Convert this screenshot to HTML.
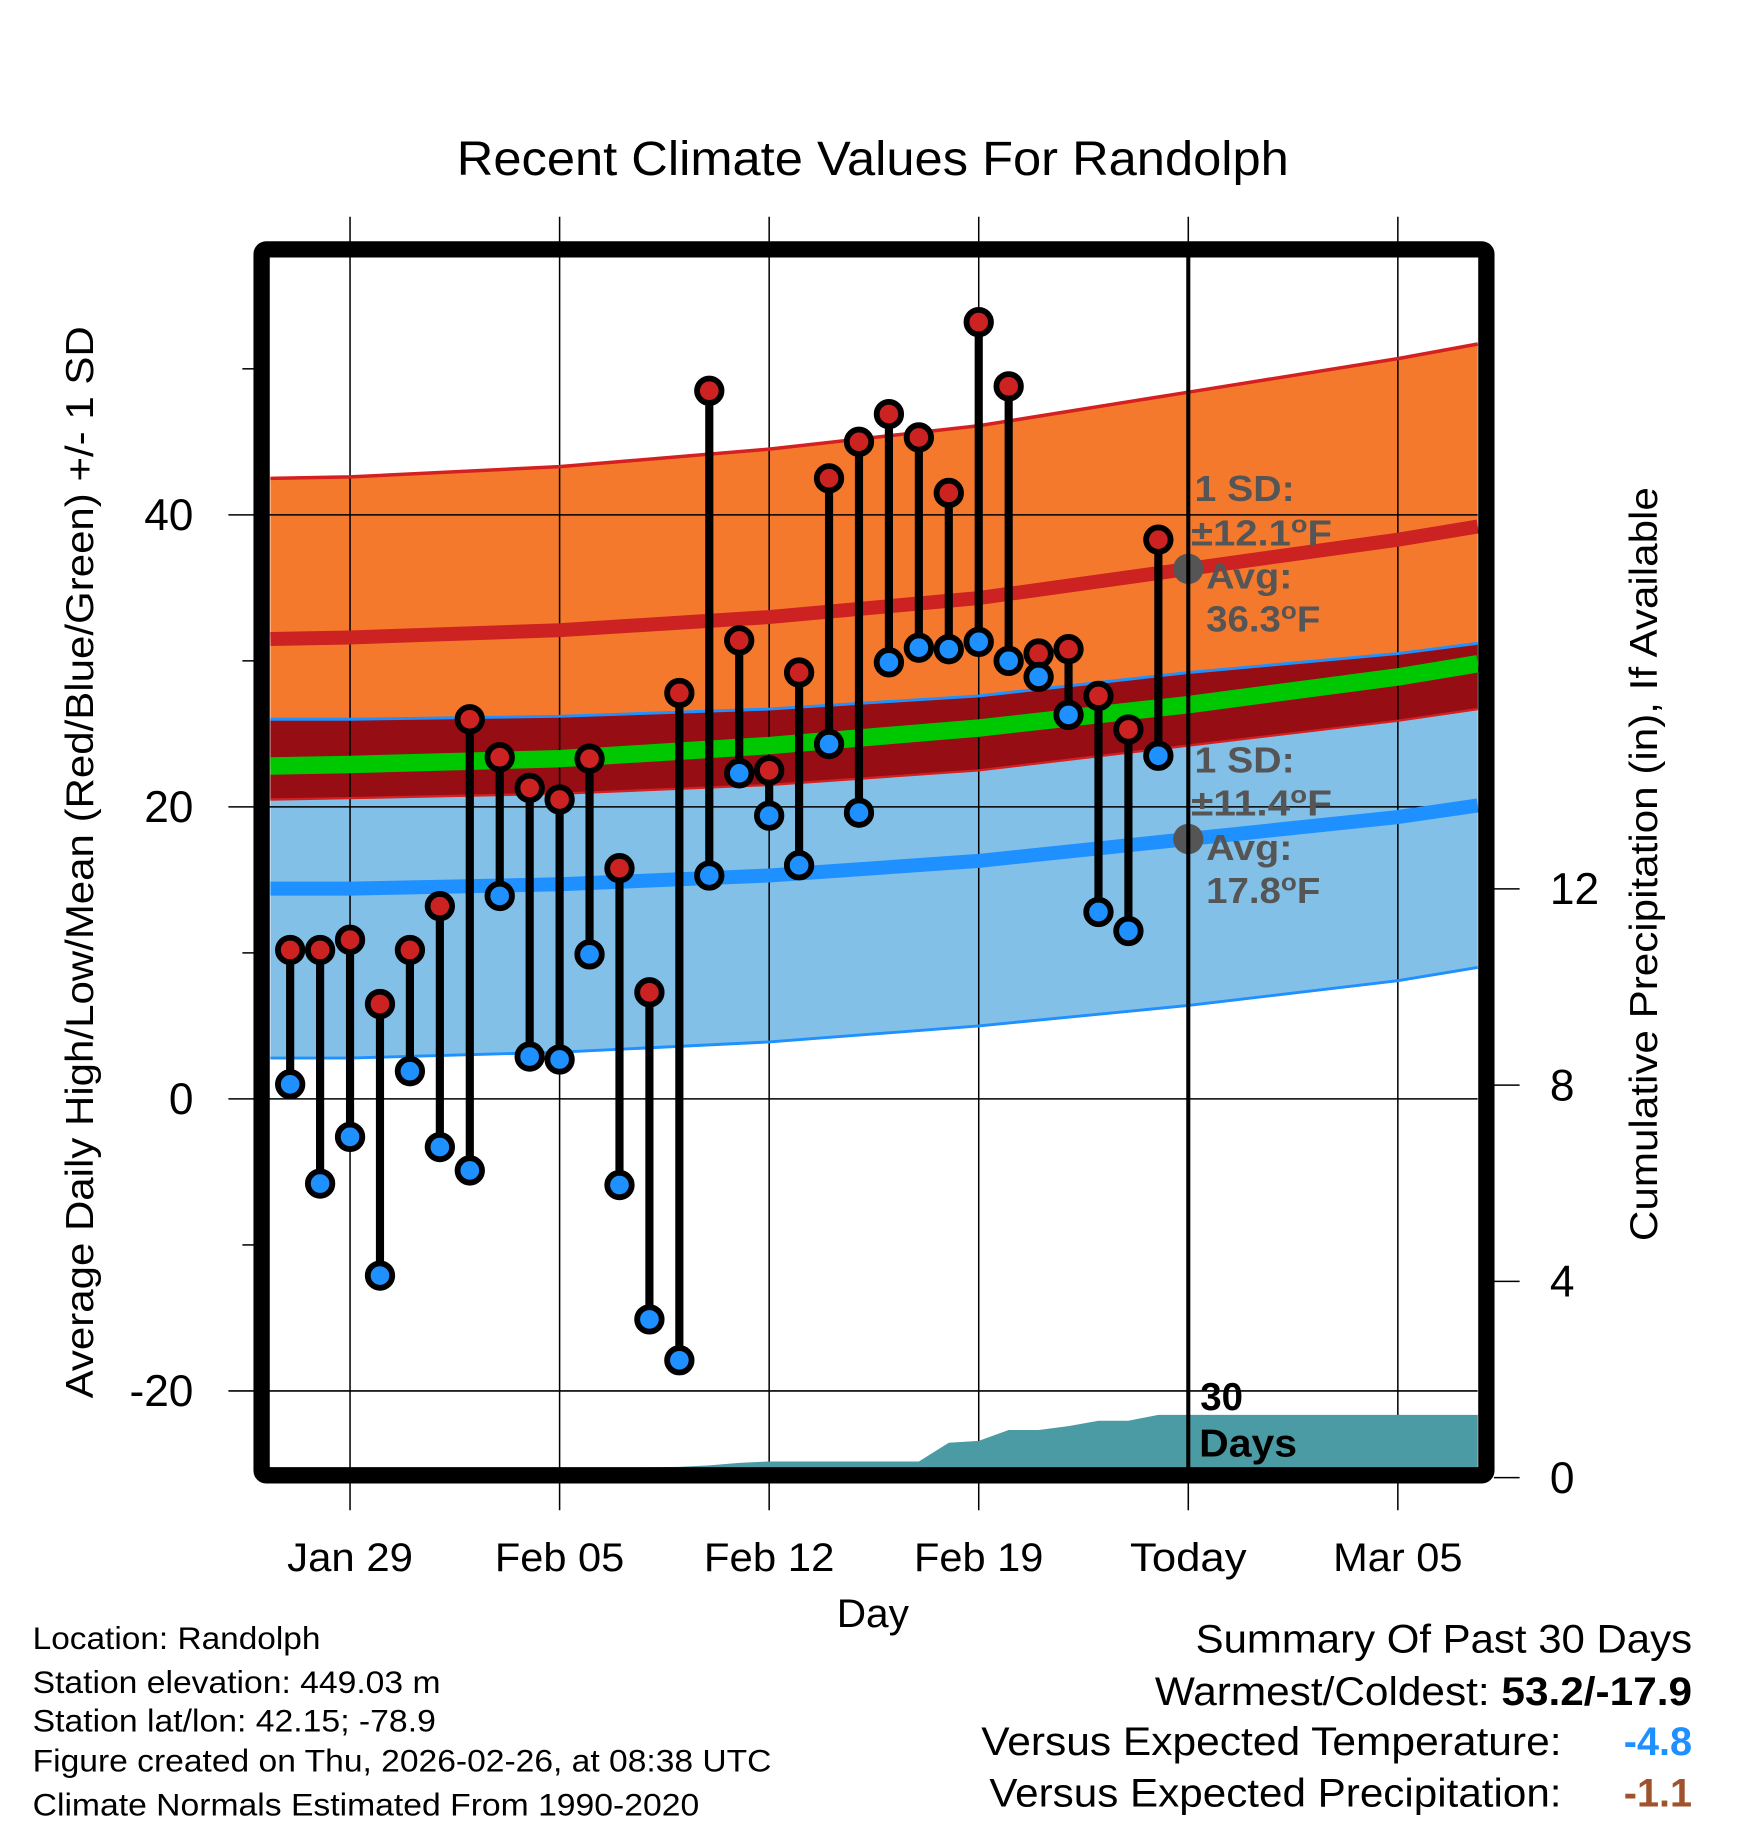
<!DOCTYPE html>
<html><head><meta charset="utf-8"><style>
html,body{margin:0;padding:0;background:#fff}
svg{display:block}
text{font-family:"Liberation Sans",sans-serif}
</style></head><body>
<svg id="chart" width="1748" height="1828" viewBox="0 0 1500 1568.65" xmlns="http://www.w3.org/2000/svg">
<g id="bands"></g>
<g id="grid"></g>
<g id="precip"></g>
<g id="lines"></g>
<line x1="1019.7" y1="221" x2="1019.7" y2="1260" stroke="#000" stroke-width="3.5"/>
<g id="marks"></g>
<g id="annot" fill="#555" font-weight="bold" font-size="31">
<text x="1025" y="430" textLength="86" lengthAdjust="spacingAndGlyphs">1 SD:</text>
<text x="1022" y="468" textLength="121" lengthAdjust="spacingAndGlyphs">±12.1<tspan dy="-11" font-size="21">o</tspan><tspan dy="11">F</tspan></text>
<text x="1035" y="505" textLength="74" lengthAdjust="spacingAndGlyphs">Avg:</text>
<text x="1035" y="542" textLength="98" lengthAdjust="spacingAndGlyphs">36.3<tspan dy="-11" font-size="21">o</tspan><tspan dy="11">F</tspan></text>
<text x="1025" y="663" textLength="86" lengthAdjust="spacingAndGlyphs">1 SD:</text>
<text x="1022" y="700" textLength="121" lengthAdjust="spacingAndGlyphs">±11.4<tspan dy="-11" font-size="21">o</tspan><tspan dy="11">F</tspan></text>
<text x="1035" y="738" textLength="74" lengthAdjust="spacingAndGlyphs">Avg:</text>
<text x="1035" y="775" textLength="98" lengthAdjust="spacingAndGlyphs">17.8<tspan dy="-11" font-size="21">o</tspan><tspan dy="11">F</tspan></text>
</g>
<text x="1030" y="1210" font-size="33" font-weight="bold">30</text>
<text x="1029" y="1250" font-size="33" font-weight="bold" textLength="84" lengthAdjust="spacingAndGlyphs">Days</text>
<rect x="224.5" y="214" width="1051" height="1052" rx="4" fill="none" stroke="#000" stroke-width="14"/>
<g id="axes"></g>
<text x="392" y="150" font-size="41" textLength="714" lengthAdjust="spacingAndGlyphs">Recent Climate Values For Randolph</text>
<text x="718" y="1396" font-size="34" textLength="62" lengthAdjust="spacingAndGlyphs">Day</text>
<text transform="translate(80,1200) rotate(-90)" font-size="33" textLength="920" lengthAdjust="spacingAndGlyphs">Average Daily High/Low/Mean (Red/Blue/Green) +/- 1 SD</text>
<text transform="translate(1422,1065) rotate(-90)" font-size="33" textLength="647" lengthAdjust="spacingAndGlyphs">Cumulative Precipitation (in), If Available</text>
<g font-size="27">
<text x="28" y="1415" textLength="247" lengthAdjust="spacingAndGlyphs">Location: Randolph</text>
<text x="28" y="1453" textLength="350" lengthAdjust="spacingAndGlyphs">Station elevation: 449.03 m</text>
<text x="28" y="1486" textLength="346" lengthAdjust="spacingAndGlyphs">Station lat/lon: 42.15; -78.9</text>
<text x="28" y="1520" textLength="634" lengthAdjust="spacingAndGlyphs">Figure created on Thu, 2026-02-26, at 08:38 UTC</text>
<text x="28" y="1558" textLength="572" lengthAdjust="spacingAndGlyphs">Climate Normals Estimated From 1990-2020</text>
</g>
<g font-size="34">
<text x="1026" y="1418" textLength="426" lengthAdjust="spacingAndGlyphs">Summary Of Past 30 Days</text>
<text x="991" y="1463" textLength="461" lengthAdjust="spacingAndGlyphs">Warmest/Coldest: <tspan font-weight="bold">53.2/-17.9</tspan></text>
<text x="842" y="1506" textLength="498" lengthAdjust="spacingAndGlyphs">Versus Expected Temperature:</text>
<text x="1452" y="1506" fill="#1e90ff" font-weight="bold" text-anchor="end">-4.8</text>
<text x="849" y="1550" textLength="491" lengthAdjust="spacingAndGlyphs">Versus Expected Precipitation:</text>
<text x="1452" y="1550" fill="#a0522d" font-weight="bold" text-anchor="end">-1.1</text>
</g>
</svg>
<script>
const highs=[10.2,10.2,10.9,6.5,10.2,13.2,26.0,23.4,21.3,20.5,23.3,15.8,7.3,27.8,48.5,31.4,22.5,29.2,42.5,45.0,46.9,45.3,41.5,53.2,48.8,30.5,30.8,27.6,25.3,38.3];
const lows=[1.0,-5.8,-2.6,-12.1,1.9,-3.3,-4.9,13.9,2.9,2.7,9.9,-5.9,-15.1,-17.9,15.3,22.3,19.4,16.0,24.3,19.6,29.9,30.9,30.8,31.3,30.0,28.9,26.3,12.8,11.5,23.5];
const precip=[0,0,0,0,0,0,0,0,0,0,0.19,0.2,0.21,0.22,0.25,0.3,0.33,0.33,0.33,0.33,0.33,0.33,0.71,0.75,0.97,0.97,1.05,1.16,1.16,1.28];
const normDays=[-0.66,2,9,16,23,30,37,39.67];
const avgHigh=[31.5,31.6,32.1,33.0,34.3,36.3,38.3,39.2];
const sdHigh=[11.0,11.0,11.2,11.5,11.8,12.1,12.4,12.5];
const avgLow=[14.4,14.4,14.7,15.3,16.3,17.8,19.3,20.1];
const sdLow=[11.6,11.6,11.5,11.4,11.3,11.4,11.2,11.1];
const avgMean=[22.8,22.9,23.3,24.2,25.4,27.0,28.9,29.8];
const xTickDays=[2,9,16,23,30,37];
const xTickLabels=["Jan 29","Feb 05","Feb 12","Feb 19","Today","Mar 05"];
const xTickWidths=[108,111,112,111,100,111];
const yTicks=[-20,0,20,40];
const yMinor=[-10,10,30,50];
const pTicks=[0,4,8,12];

const NS="http://www.w3.org/2000/svg";
const X=d=>249+25.69*d;
const Y=v=>943-12.53*v;
const P=p=>1268-42.1*p;
function mk(parent,tag,attrs){const e=document.createElementNS(NS,tag);for(const k in attrs)e.setAttribute(k,attrs[k]);document.getElementById(parent).appendChild(e);return e;}
function band(up,lo){let pts=normDays.map((d,i)=>X(d)+","+Y(up[i]));for(let i=normDays.length-1;i>=0;i--)pts.push(X(normDays[i])+","+Y(lo[i]));return pts.join(" ");}
function line(arr){return normDays.map((d,i)=>X(d)+","+Y(arr[i])).join(" ");}
const hU=avgHigh.map((v,i)=>v+sdHigh[i]), hL=avgHigh.map((v,i)=>v-sdHigh[i]);
const lU=avgLow.map((v,i)=>v+sdLow[i]), lL=avgLow.map((v,i)=>v-sdLow[i]);
let e;
e=mk("bands","polygon",{points:band(hU,hL),fill:"#f5792d"});


e=mk("bands","polygon",{points:band(lU,lL),fill:"#82c0e8"});


e=mk("bands","polygon",{points:band(lU.map((v,i)=>Math.min(v,hU[i])),hL.map((v,i)=>Math.max(v,lL[i]))),fill:"#960d14"});


xTickDays.forEach((d,i)=>{
 e=mk("grid","line",{x1:X(d),x2:X(d),y1:186,y2:1296,stroke:"#000","stroke-width":1.3});
 
 
});
yTicks.forEach(v=>{
 e=mk("grid","line",{x1:196,x2:1268,y1:Y(v),y2:Y(v),stroke:"#000","stroke-width":1.3});
 
 
});
let pp=[X(-0.66)+","+P(0)];
precip.forEach((p,i)=>pp.push(X(i)+","+P(p)));
pp.push(X(39.67)+","+P(precip[precip.length-1]));pp.push(X(39.67)+","+P(0));
e=mk("precip","polygon",{points:pp.join(" "),fill:"#4a9ba3"});


[[hU,"#d42020",3,"high-upper-line"],[lU,"#1e90ff",2.5,"low-upper-line"],[lL,"#1e90ff",2.5,"low-lower-line"],[hL,"#d42020",2,"high-lower-line"],[avgMean,"#00c800",15,"mean-line"],[avgHigh,"#cc2222",12,"avg-high-line"],[avgLow,"#1e90ff",12,"avg-low-line"]].forEach(a=>{
 e=mk("lines","polyline",{points:line(a[0]),fill:"none",stroke:a[1],"stroke-width":a[2]});
 
 
});
e=mk("lines","circle",{cx:X(30),cy:Y(avgHigh[5]),r:13,fill:"#555"});


e=mk("lines","circle",{cx:X(30),cy:Y(avgLow[5]),r:13,fill:"#555"});


highs.forEach((h,i)=>{
 e=mk("marks","line",{x1:X(i),x2:X(i),y1:Y(h),y2:Y(lows[i]),stroke:"#000","stroke-width":7});
 
 
 e=mk("marks","circle",{cx:X(i),cy:Y(h),r:10.5,fill:"#cc2222",stroke:"#000","stroke-width":5});
 
 
 e=mk("marks","circle",{cx:X(i),cy:Y(lows[i]),r:10.5,fill:"#1e90ff",stroke:"#000","stroke-width":5});
 
 
});
xTickDays.forEach((d,i)=>{
 e=mk("axes","text",{x:X(d)-xTickWidths[i]/2,y:1348,"font-size":34,textLength:xTickWidths[i],lengthAdjust:"spacingAndGlyphs"});
 e.textContent=xTickLabels[i];
 
 
});
yTicks.forEach(v=>{
 e=mk("axes","text",{x:166,y:Y(v)+13,"font-size":38,"text-anchor":"end"});
 e.textContent=v;
 
 
});
yMinor.forEach(v=>{
 e=mk("axes","line",{x1:208,x2:218,y1:Y(v),y2:Y(v),stroke:"#000","stroke-width":1.3});
 
 
});
pTicks.forEach(p=>{
 e=mk("axes","line",{x1:1282,x2:1304,y1:P(p),y2:P(p),stroke:"#000","stroke-width":1.3});
 
 
 e=mk("axes","text",{x:1330,y:P(p)+13,"font-size":38});
 e.textContent=p;
 
 
});
</script>
</body></html>
